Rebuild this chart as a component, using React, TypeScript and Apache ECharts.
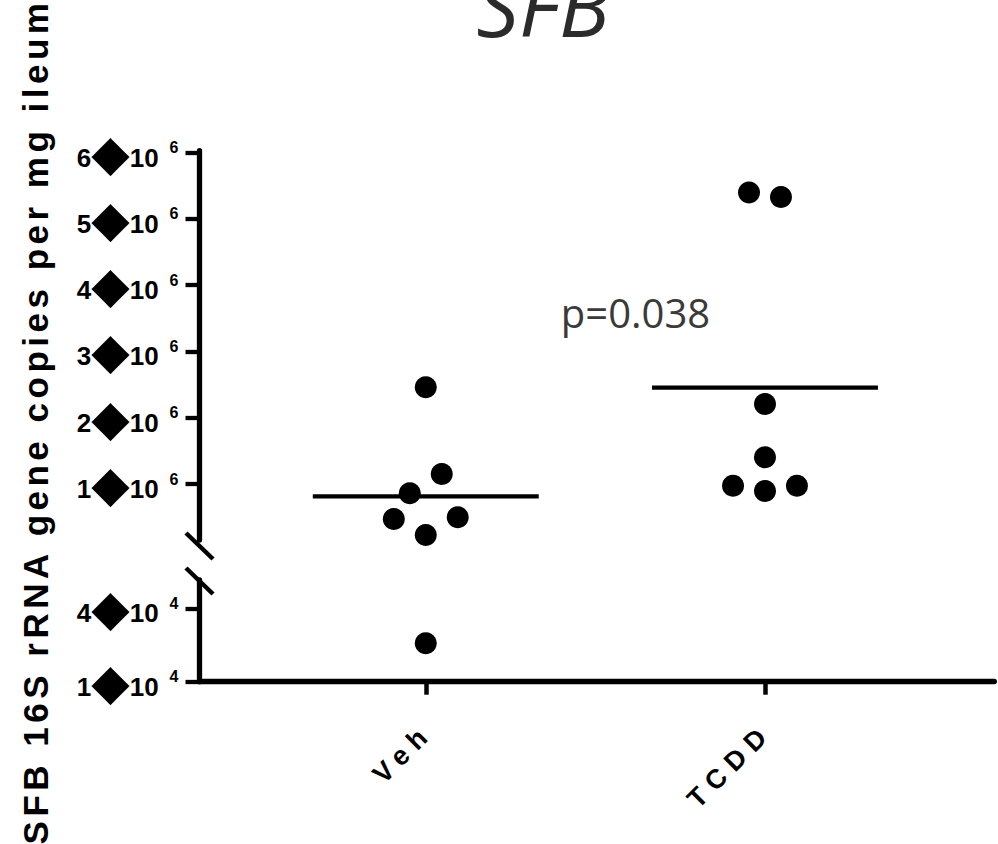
import React, { useEffect, useRef } from "react";
import * as echarts from "echarts";

// ---------- data ----------
const categories = ["Veh", "TCDD"];
const vehValues = [2460000, 1151000, 860000, 472000, 498000, 231000, 25700];
const tcddValues = [5400000, 5330000, 2208000, 1403000, 975000, 895000, 975000];
// beeswarm slot of each dot (horizontal spread, in dot widths)
const vehSlots = [0, 1, -1, -2, 2, 0, 0];
const tcddSlots = [-1, 1, 0, 0, -2, 0, 2];
const upperTicks = [1e6, 2e6, 3e6, 4e6, 5e6, 6e6];
const lowerTicks = [1e4, 4e4];
const titleText = "SFB";
const pValueText = "p=0.038";
const yAxisTitle = "SFB 16S rRNA gene copies per mg ileum";

// ---------- layout ----------
const AXIS_X = 199.5;
const RIGHT_X = 994.3;
const UPPER_TOP = 150.7;
const UPPER_BOTTOM = 540;
const UPPER_MIN = 155000;
const UPPER_MAX = 6030000;
const LOWER_TOP = 580;
const LOWER_BOTTOM = 681.7;
const LOWER_MIN = 10000;
const LOWER_MAX = 51560;
const X_MIN = 0.333;
const X_MAX = 2.676;
const SLOT = 0.0471;
const MEAN_HALF = 0.333;

const css = `
#chart-root text[style*="yspaced"] { letter-spacing: 4.5px; }
#chart-root text[style*="xspaced"] { letter-spacing: 8px; }
`;

function mean(a: number[]) {
  return a.reduce((s, v) => s + v, 0) / a.length;
}

export default function App() {
  const ref = useRef<HTMLDivElement>(null);
  useEffect(() => {
    const chart = echarts.init(ref.current!, null, { renderer: "svg" });

    const groups = [
      { vals: vehValues, slots: vehSlots, center: 1 },
      { vals: tcddValues, slots: tcddSlots, center: 2 },
    ];
    const upperPts: number[][] = [];
    const lowerPts: number[][] = [];
    groups.forEach((g) => {
      g.vals.forEach((v, i) => {
        const x = g.center + g.slots[i] * SLOT;
        if (v >= UPPER_MIN) upperPts.push([x, v]);
        else lowerPts.push([x, v]);
      });
    });
    const meanLines = groups.map((g) => {
      const m = mean(g.vals);
      return [
        [g.center - MEAN_HALF, m],
        [g.center + MEAN_HALF, m],
      ];
    });

    const rich = {
      n: { fontFamily: "Liberation Sans", fontWeight: "bold", fontSize: 26, color: "#000", padding: [10, 0, 0, 0] },
      d: { fontFamily: "DejaVu Sans", fontSize: 50, color: "#000" },
      t: { fontFamily: "Liberation Sans", fontWeight: "bold", fontSize: 26, color: "#000", padding: [10, 0, 0, 0] },
      s: { fontFamily: "Liberation Sans", fontWeight: "bold", fontSize: 16, color: "#000", padding: [0, 0, 10, 11] },
    };

    const staticGraphics: any[] = [
      {
        type: "text",
        id: "title",
        x: 543,
        y: 4,
        style: {
          text: titleText,
          fontFamily: "Open Sans",
          fontStyle: "italic",
          fontSize: 84,
          fill: "#2b2b2b",
          textAlign: "center",
          textVerticalAlign: "middle",
        },
      },
      {
        type: "text",
        id: "pvalue",
        x: 635.5,
        y: 312,
        style: {
          text: pValueText,
          fontFamily: "Open Sans",
          fontSize: 40,
          fill: "#3a3a3a",
          textAlign: "center",
          textVerticalAlign: "middle",
        },
      },
      {
        type: "text",
        id: "ytitle",
        x: 35.5,
        y: 421.5,
        rotation: Math.PI / 2,
        style: {
          text: yAxisTitle,
          fontFamily: "Liberation Sans, yspaced",
          fontWeight: "bold",
          fontSize: 35,
          fill: "#000",
          textAlign: "center",
          textVerticalAlign: "middle",
        },
      },
      {
        type: "line",
        id: "break1",
        shape: { x1: AXIS_X - 13.5, y1: UPPER_BOTTOM - 7, x2: AXIS_X + 13.5, y2: UPPER_BOTTOM + 19 },
        style: { stroke: "#000", lineWidth: 4.5 },
      },
      {
        type: "line",
        id: "break2",
        shape: { x1: AXIS_X - 13.5, y1: LOWER_TOP - 12, x2: AXIS_X + 13.5, y2: LOWER_TOP + 14 },
        style: { stroke: "#000", lineWidth: 4.5 },
      },
    ];

    const option: any = {
      animation: false,
      backgroundColor: "#fff",
      grid: [
        {
          left: AXIS_X,
          right: 998 - RIGHT_X,
          top: UPPER_TOP,
          height: UPPER_BOTTOM - UPPER_TOP,
          outerBoundsMode: "none",
        },
        {
          left: AXIS_X,
          right: 998 - RIGHT_X,
          top: LOWER_TOP,
          height: LOWER_BOTTOM - LOWER_TOP,
          outerBoundsMode: "none",
        },
      ],
      xAxis: [
        { gridIndex: 0, type: "value", min: X_MIN, max: X_MAX, show: false },
        {
          gridIndex: 1,
          type: "value",
          min: X_MIN,
          max: X_MAX,
          splitLine: { show: false },
          axisLine: { show: true, lineStyle: { color: "#000", width: 5.3 } },
          axisTick: {
            show: true,
            customValues: [1, 2],
            length: 13,
            lineStyle: { color: "#000", width: 4.5 },
          },
          axisLabel: { show: false },
        },
      ],
      yAxis: [
        {
          gridIndex: 0,
          type: "value",
          min: UPPER_MIN,
          max: UPPER_MAX,
          splitLine: { show: false },
          axisLine: { show: true, lineStyle: { color: "#000", width: 5.3 } },
          axisTick: {
            show: true,
            customValues: upperTicks,
            length: 14,
            lineStyle: { color: "#000", width: 4.3 },
          },
          axisLabel: {
            customValues: upperTicks,
            margin: 21,
            formatter: (v: number) => `{n|${Math.round(v / 1e6)}}{d|◆}{t|10}{s|6}`,
            rich,
          },
        },
        {
          gridIndex: 1,
          type: "value",
          min: LOWER_MIN,
          max: LOWER_MAX,
          splitLine: { show: false },
          axisLine: { show: true, lineStyle: { color: "#000", width: 5.3 } },
          axisTick: {
            show: true,
            customValues: lowerTicks,
            length: 14,
            lineStyle: { color: "#000", width: 4.3 },
          },
          axisLabel: {
            customValues: lowerTicks,
            margin: 21,
            formatter: (v: number) => `{n|${Math.round(v / 1e4)}}{d|◆}{t|10}{s|4}`,
            rich,
          },
        },
      ],
      series: [
        {
          type: "line",
          xAxisIndex: 0,
          yAxisIndex: 0,
          data: meanLines[0],
          symbol: "none",
          lineStyle: { color: "#000", width: 4.3, opacity: 1 },
          z: 1,
        },
        {
          type: "line",
          xAxisIndex: 0,
          yAxisIndex: 0,
          data: meanLines[1],
          symbol: "none",
          lineStyle: { color: "#000", width: 4.3, opacity: 1 },
          z: 1,
        },
        {
          type: "scatter",
          xAxisIndex: 0,
          yAxisIndex: 0,
          data: upperPts,
          symbol: "circle",
          symbolSize: 22,
          itemStyle: { color: "#000", opacity: 1 },
          z: 3,
        },
        {
          type: "scatter",
          xAxisIndex: 1,
          yAxisIndex: 1,
          data: lowerPts,
          symbol: "circle",
          symbolSize: 22,
          itemStyle: { color: "#000", opacity: 1 },
          z: 3,
        },
      ],
    };
    chart.setOption(option);

    // category labels, placed at the x-axis tick positions, rotated 45°
    const xLabels = categories.map((c, i) => {
      const p = chart.convertToPixel({ xAxisIndex: 1, yAxisIndex: 1 }, [i + 1, LOWER_MIN]) as number[];
      return {
        type: "text",
        id: "xl" + i,
        x: p[0] + 2.5,
        y: p[1] + 46,
        rotation: Math.PI / 4,
        style: {
          text: c,
          fontFamily: "Liberation Sans, xspaced",
          fontWeight: "bold",
          fontSize: 27,
          fill: "#000",
          textAlign: "right",
          textVerticalAlign: "middle",
        },
      };
    });
    chart.setOption({ graphic: [...staticGraphics, ...xLabels] });

    return () => chart.dispose();
  }, []);

  return (
    <>
      <style>{css}</style>
      <div
        id="chart-root"
        ref={ref}
        style={{ position: "absolute", left: 0, top: 0, width: 998, height: 844, background: "#fff" }}
      />
    </>
  );
}
